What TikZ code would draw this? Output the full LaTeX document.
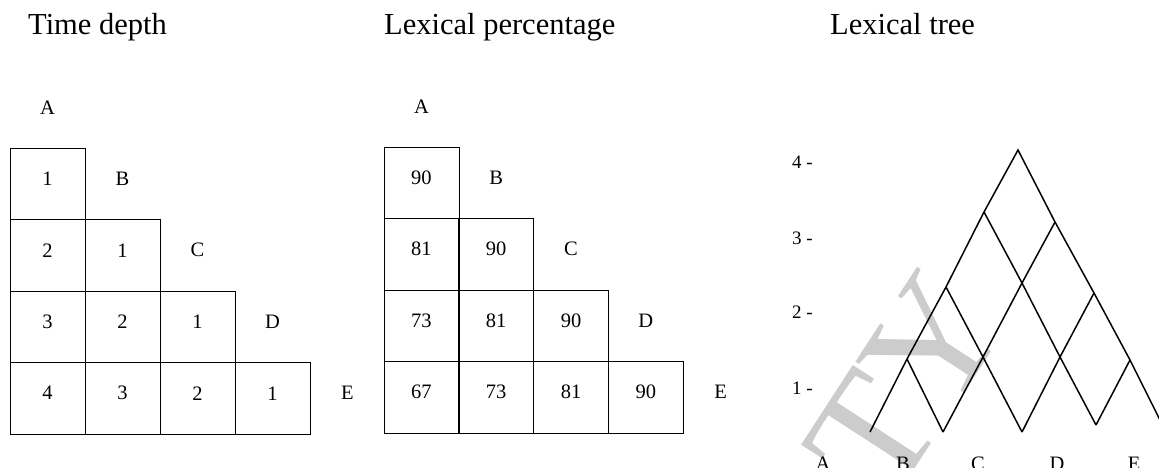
\documentclass[tikz,border=0pt]{standalone}
\usepackage{fontspec}
\setmainfont{Liberation Serif}
\begin{document}
\begin{tikzpicture}[x=1pt,y=-1pt,
  cellbox/.style={draw, line width=0.8pt, minimum width=75pt, minimum height=71.5pt, inner sep=0pt},
  celltext/.style={inner sep=0pt, font=\fontsize{20.5}{24}\selectfont},
  lbl/.style={inner sep=0pt, font=\fontsize{20.5}{24}\selectfont},
  ttl/.style={inner sep=0pt, anchor=base west, font=\fontsize{30.5}{34}\selectfont},
  tick/.style={inner sep=0pt, anchor=west, font=\fontsize{19}{22}\selectfont},
  treeline/.style={line width=1.5pt, line join=miter},
  wmark/.style={inner sep=0pt, text=black!20, font=\fontsize{165}{165}\selectfont}]
\useasboundingbox (0,0) rectangle (1159,468);
\clip (0,0) rectangle (1159,468);

% titles
\node[ttl] (title1) at (28,35) {Time depth};
\node[ttl] (title2) at (384,35) {Lexical percentage};
\node[ttl] (title3) at (830,35) {Lexical tree};

% table 1: time depth
\foreach \r/\c/\v in {1/1/1, 2/1/2, 2/2/1, 3/1/3, 3/2/2, 3/3/1, 4/1/4, 4/2/3, 4/3/2, 4/4/1}{
  \node[cellbox] (ta-\r-\c) at ({10+(\c-0.5)*75},{148+(\r-0.5)*71.5}) {};
  \node[celltext] (tav-\r-\c) at ({10+(\c-0.5)*75},{148+(\r-0.5)*71.5-5}) {\v};
}
\foreach \i/\l in {0/A,1/B,2/C,3/D,4/E}{
  \node[lbl] (ta-\l) at ({10+(\i+0.5)*75},{148+(\i-0.5)*71.5-5}) {\l};
}

% table 2: lexical percentage
\foreach \r/\c/\v in {1/1/90, 2/1/81, 2/2/90, 3/1/73, 3/2/81, 3/3/90, 4/1/67, 4/2/73, 4/3/81, 4/4/90}{
  \node[cellbox] (tb-\r-\c) at ({384+(\c-0.5)*74.8},{147+(\r-0.5)*71.5}) {};
  \node[celltext] (tbv-\r-\c) at ({384+(\c-0.5)*74.8},{147+(\r-0.5)*71.5-5}) {\v};
}
\foreach \i/\l in {0/A,1/B,2/C,3/D,4/E}{
  \node[lbl] (tb-\l) at ({384+(\i+0.5)*74.8},{147+(\i-0.5)*71.5-5}) {\l};
}

% watermark
\node[wmark, rotate=57] (wm) at (905,385) {TY};

% lexical tree
\coordinate (P) at (1018,150);
\coordinate (L3) at (984,212);
\coordinate (L2) at (946,287);
\coordinate (L1) at (907,359);
\coordinate (L0) at (870,432);
\coordinate (R3) at (1055,222);
\coordinate (R2) at (1094,293);
\coordinate (R1) at (1130,360);
\coordinate (R0) at (1167,434);
\coordinate (M22) at (1022,283);
\coordinate (M21) at (983,357);
\coordinate (M12) at (1060,357);
\coordinate (B1) at (943,432);
\coordinate (B2) at (1022,432);
\coordinate (B3) at (1096,425);

\draw[treeline] (L0) -- (L1) -- (L2) -- (L3) -- (P) -- (R3) -- (R2) -- (R1) -- (R0);
\draw[treeline] (L3) -- (M22) -- (M12) -- (B3);
\draw[treeline] (L2) -- (M21) -- (B2);
\draw[treeline] (L1) -- (B1);
\draw[treeline] (R3) -- (M22) -- (M21) -- (B1);
\draw[treeline] (R2) -- (M12) -- (B2);
\draw[treeline] (R1) -- (B3);

% ticks
\node[tick] (tick4) at (792,162) {4 -};
\node[tick] (tick3) at (792,238) {3 -};
\node[tick] (tick2) at (792,312) {2 -};
\node[tick] (tick1) at (792,388) {1 -};

% leaves
\node[lbl, anchor=base] (leafA) at (823,470) {A};
\node[lbl, anchor=base] (leafB) at (903,470) {B};
\node[lbl, anchor=base] (leafC) at (978,470) {C};
\node[lbl, anchor=base] (leafD) at (1057,470) {D};
\node[lbl, anchor=base] (leafE) at (1134,470) {E};
\end{tikzpicture}
\end{document}
